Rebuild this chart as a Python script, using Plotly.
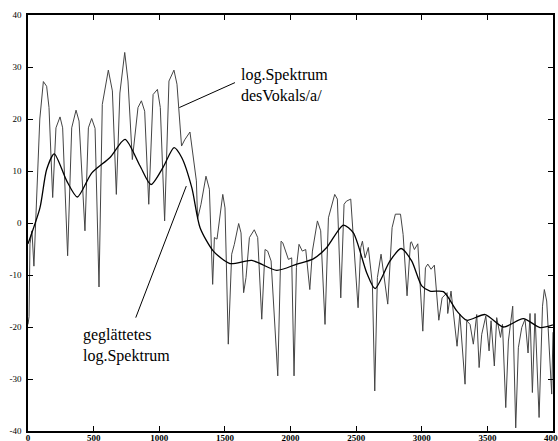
import plotly.graph_objects as go

# Jagged log spectrum of vowel /a/ (Hz, dB)
spec_x = [0, 8, 15, 30, 45, 66, 90, 117, 142, 160, 188, 213, 244, 264, 302, 333, 366, 389, 434,
          460, 485, 511, 541, 566, 612, 643, 673, 700, 737, 762, 795, 838, 864, 889, 920, 953,
          986, 1008, 1041, 1074, 1112, 1135, 1170, 1194, 1234, 1283, 1292, 1318, 1356, 1382,
          1407, 1420, 1440, 1484, 1501, 1526, 1552, 1572, 1605, 1623, 1643, 1661, 1687, 1724,
          1750, 1781, 1806, 1826, 1852, 1903, 1928, 1941, 1984, 2009, 2027, 2045, 2065, 2090,
          2116, 2147, 2167, 2205, 2230, 2263, 2289, 2337, 2357, 2383, 2408, 2426, 2459, 2515,
          2535, 2548, 2568, 2593, 2624, 2642, 2662, 2690, 2741, 2774, 2799, 2838, 2858, 2888,
          2914, 2921, 2944, 2970, 3008, 3028, 3046, 3071, 3096, 3130, 3155, 3193, 3198, 3223,
          3269, 3290, 3330, 3343, 3368, 3393, 3419, 3437, 3457, 3488, 3513, 3528, 3553, 3571,
          3600, 3615, 3640, 3660, 3693, 3716, 3736, 3762, 3787, 3810, 3825, 3843, 3863, 3894,
          3920, 3934, 3952, 3990, 4000]
spec_y = [-19.5, -18, -4, -1.5, -8.3, 6.2, 20, 27.2, 26.3, 22.2, 4.9, 18.3, 20.4, 18.3, -6.3, 18.3,
          21.7, 19.6, -1.5, 18.3, 20.1, 18.2, -12.3, 22.8, 29.4, 25.4, 5.5, 25, 32.8, 27.3, 12.2,
          22.2, 23.5, 21.5, 3.6, 24.7, 25.7, 22.2, 0.4, 27.3, 29.4, 26.7, 14.8, 16, 17.5, 8.1,
          0.8, 3.6, 9.0, 6.5, -11.8, -2.8, -3.1, 5.5, 2.9, -23.3, -6.0, -4.1, -0.1, -1.9, -13.4,
          -10.5, -2.8, -1.3, -2.8, -18.5, -5.1, -5.4, -7.3, -29.4, -3.5, -3.8, -7.0, -6.7, -29.4,
          -8.6, -4.1, -5.4, -5.1, -12.8, -5.4, 0.4, -1.5, -19.5, 1.0, 5.5, 4.6, -14.4, 3.6, 4.2,
          4.6, -16.3, -4.7, -3.5, -6.7, -4.7, -11.8, -32.3, -10.5, -6.0, -15.6, -0.9, 1.7, 1.7,
          -2.2, -14.0, -3.8, -3.6, -5.1, -4.0, -20.8, -8.6, -7.9, -8.9, -8.1, -18.7, -14.4, -13.4,
          -17.4, -13.1, -23.7, -17.5, -31.0, -18.8, -19.5, -23.3, -17.6, -27.8, -21.4, -17.9,
          -24.6, -18.8, -27.5, -18.2, -22, -19.5, -35.5, -22.7, -16.0, -39.4, -24.0, -20.1, -18.5,
          -25, -17.4, -32.6, -17.4, -37.4, -16, -12.8, -15, -32.9, -21]

# Smoothed (cepstrally liftered) spectrum
smooth_x = [0, 91, 142, 200, 295, 376, 485, 625, 739, 853, 937, 1031, 1113, 1171, 1248, 1311,
            1412, 1539, 1705, 1895, 2048, 2174, 2276, 2403, 2479, 2581, 2644, 2758, 2842, 2923,
            3000, 3063, 3165, 3267, 3343, 3483, 3622, 3774, 3901, 4000]
smooth_y = [-4, 2.9, 10.3, 13.3, 8.1, 5.0, 9.6, 12.6, 16.1, 11, 7.4, 10.8, 14.5, 12.6, 6.8, -0.9,
            -5.4, -7.8, -7.2, -9.1, -7.9, -6.9, -4.7, -0.4, -1.9, -9.6, -12.6, -7.3, -4.9, -7.3,
            -12.1, -13.1, -13.2, -16.9, -18.7, -17.6, -20, -18.4, -20.1, -19.6]

x_ticks = [0, 500, 1000, 1500, 2000, 2500, 3000, 3500, 4000]
x_ticktext = ["0", "500", "1000", "1500", "2000", "2500", "3000", "3500", "4000"]
y_ticks = [40, 30, 20, 10, 0, -10, -20, -30, -40]
y_ticktext = ["40", "30", "20", "10", "0", "-10", "-20", "-30", "-40"]

label_top = "log.Spektrum<br>desVokals/a/"
label_bottom = "geglättetes<br>log.Spektrum"

FONT = "Liberation Serif, Times New Roman, serif"

fig = go.Figure()
fig.add_trace(go.Scatter(x=spec_x, y=spec_y, mode="lines",
                         line=dict(color="#444444", width=1), showlegend=False))
fig.add_trace(go.Scatter(x=smooth_x, y=smooth_y, mode="lines",
                         line=dict(color="black", width=1.3, shape="spline", smoothing=0.7),
                         showlegend=False))

# leader lines
fig.add_shape(type="line", x0=1153, y0=22.2, x1=1577, y1=27.0, xref="x", yref="y",
              line=dict(color="black", width=1))
fig.add_shape(type="line", x0=821, y0=-18.2, x1=1206, y1=7.1, xref="x", yref="y",
              line=dict(color="black", width=1))

fig.add_annotation(x=1610, y=26.5, text=label_top, showarrow=False, xanchor="left",
                   yanchor="middle", align="left", font=dict(family=FONT, size=16, color="black"))
fig.add_annotation(x=404, y=-23.5, text=label_bottom, showarrow=False, xanchor="left",
                   yanchor="middle", align="left", font=dict(family=FONT, size=16, color="black"))

axis_common = dict(showline=True, linecolor="black", linewidth=1.5, mirror="ticks",
                   ticks="inside", ticklen=5, tickcolor="black", tickwidth=1,
                   showgrid=False, zeroline=False, automargin=False)

fig.update_xaxes(range=[0, 4000], tickvals=x_ticks, ticktext=x_ticktext,
                 tickfont=dict(family=FONT, size=9, color="black", weight="bold"),
                 ticklabelstandoff=-3, ticklabeloverflow="allow", **axis_common)
fig.update_yaxes(range=[-40, 40], tickvals=y_ticks, ticktext=y_ticktext,
                 tickfont=dict(family=FONT, size=9, color="black"),
                 ticklabelstandoff=3, **axis_common)

fig.update_layout(width=558, height=441, margin=dict(l=28, r=5, t=15, b=10),
                  paper_bgcolor="white", plot_bgcolor="white",
                  font=dict(family=FONT))

fig.write_html("out.html", config={"displayModeBar": False},
               post_script="document.body.style.margin='0';document.body.style.overflow='hidden';")
